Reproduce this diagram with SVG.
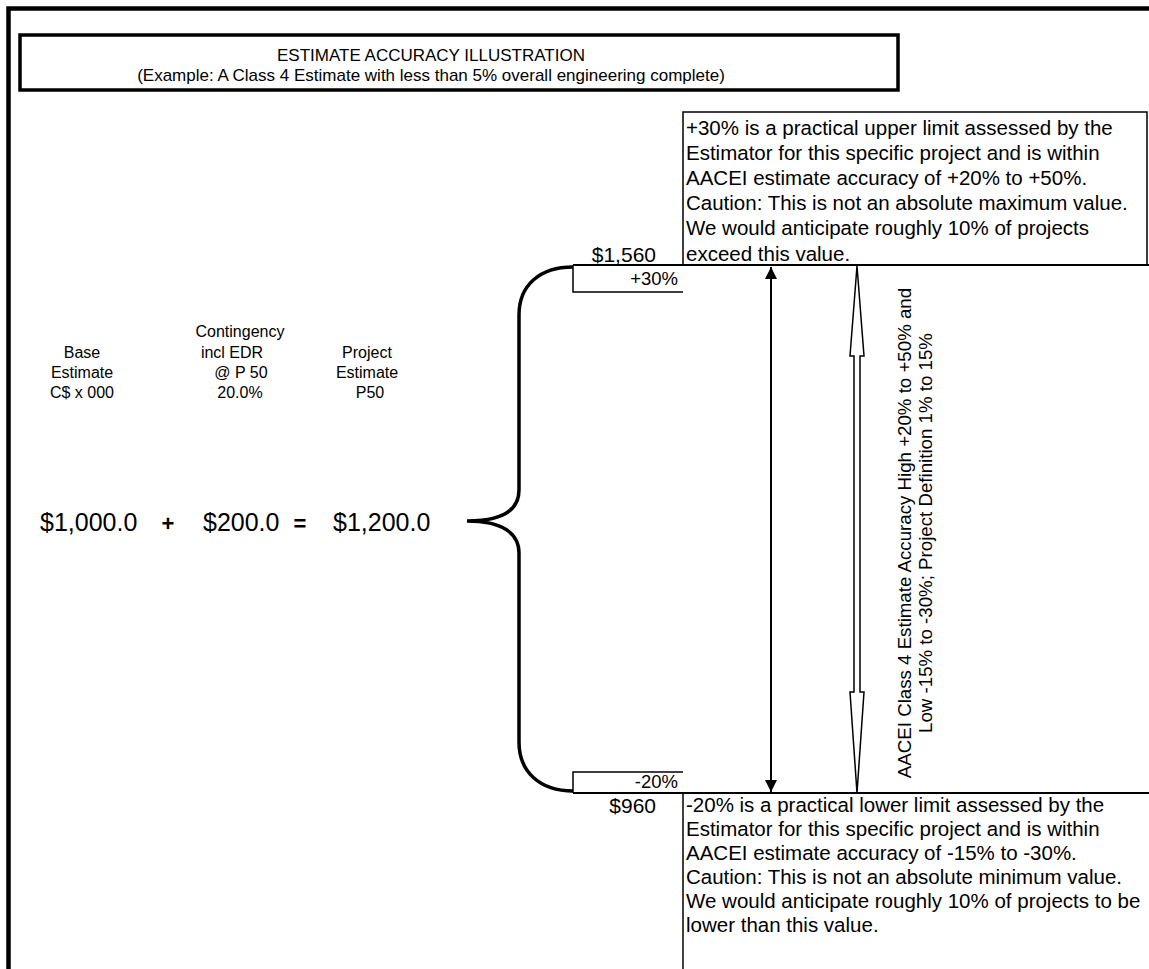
<svg xmlns="http://www.w3.org/2000/svg" width="1149" height="969" viewBox="0 0 1149 969">
<style>
text{font-family:"Liberation Sans",Arial,sans-serif;fill:#000}
.t{font-size:17px}
.b{font-size:20.5px}
.v{font-size:18.7px;text-anchor:middle}
.p{font-size:18.5px;text-anchor:end}
.d{font-size:21px;text-anchor:end}
.lbl{font-size:16px;text-anchor:middle}
.eq{font-size:25px}
.op{font-size:22px;font-weight:bold;text-anchor:middle}
.m{text-anchor:middle}
.thin{stroke:#000;stroke-width:1.5;fill:none}
.med{stroke:#000;stroke-width:2;fill:none}
</style>
<defs>
<marker id="ah" viewBox="0 0 10 10" refX="10" refY="5" markerWidth="12" markerHeight="12" markerUnits="userSpaceOnUse" orient="auto-start-reverse"><path d="M0,0 L10,5 L0,10 Z" fill="#000"/></marker>
</defs>
<rect width="1149" height="969" fill="#fff"/>
<g id="frame"><path d="M8.5,969 V8.5 H1149" stroke="#000" stroke-width="4.5" fill="none"/></g>
<g id="title">
<rect x="20" y="35" width="878" height="55" fill="none" stroke="#000" stroke-width="3.5"/>
<text class="t m" x="431" y="61">ESTIMATE ACCURACY ILLUSTRATION</text>
<text class="t m" x="431" y="81">(Example: A Class 4 Estimate with less than 5% overall engineering complete)</text>
</g>
<g id="upper-note">
<path class="thin" d="M683,265 V112 H1147 V265"/>
<text class="b">
<tspan x="686" y="135">+30% is a practical upper limit assessed by the</tspan>
<tspan x="686" y="160">Estimator for this specific project and is within</tspan>
<tspan x="686" y="185">AACEI estimate accuracy of +20% to +50%.</tspan>
<tspan x="686" y="210">Caution: This is not an absolute maximum value.</tspan>
<tspan x="686" y="235">We would anticipate roughly 10% of projects</tspan>
<tspan x="686" y="261">exceed this value.</tspan>
</text>
<text class="d" x="656" y="262">$1,560</text>
</g>
<g id="upper-box">
<path class="thin" d="M573,265 V292 H683"/>
<text class="p" x="678" y="285">+30%</text>
</g>
<g id="lower-box">
<path class="thin" d="M683,772 H573 V793"/>
<text class="p" x="678" y="788">-20%</text>
</g>
<g id="lower-note">
<path class="thin" d="M683,793 V969"/>
<text class="d" x="656" y="813">$960</text>
<text class="b">
<tspan x="686" y="812">-20% is a practical lower limit assessed by the</tspan>
<tspan x="686" y="836">Estimator for this specific project and is within</tspan>
<tspan x="686" y="860">AACEI estimate accuracy of -15% to -30%.</tspan>
<tspan x="686" y="884">Caution: This is not an absolute minimum value.</tspan>
<tspan x="686" y="908">We would anticipate roughly 10% of projects to be</tspan>
<tspan x="686" y="932">lower than this value.</tspan>
</text>
</g>
<g id="labels">
<text class="lbl" x="82" y="358">Base</text>
<text class="lbl" x="82" y="378">Estimate</text>
<text class="lbl" x="82" y="398">C$ x 000</text>
<text class="lbl" x="240" y="337">Contingency</text>
<text class="lbl" x="232" y="358">incl EDR</text>
<text class="lbl" x="241" y="378">@ P 50</text>
<text class="lbl" x="240" y="398">20.0%</text>
<text class="lbl" x="367" y="358">Project</text>
<text class="lbl" x="367" y="378">Estimate</text>
<text class="lbl" x="370" y="398">P50</text>
</g>
<g id="equation">
<text class="eq" x="40" y="531">$1,000.0</text>
<text class="op" x="168" y="531">+</text>
<text class="eq" x="203" y="531">$200.0</text>
<text class="op" x="300" y="531">=</text>
<text class="eq" x="333" y="531">$1,200.0</text>
</g>
<g id="range-note">
<text class="v" transform="translate(911,533) rotate(-90)">AACEI Class 4 Estimate Accuracy High +20% to +50% and</text>
<text class="v" transform="translate(932,533) rotate(-90)">Low -15% to -30%; Project Definition 1% to 15%</text>
</g>
<g id="connectors">
<path class="med" d="M573,265 H1149"/>
<path class="med" d="M573,793 H1149"/>
<path d="M573,267 C540,267 519,285 519,315 L519,490 C519,510 502,521 467,521 C502,521 519,533 519,553 L519,742 C519,772 540,791 573,791" stroke="#000" stroke-width="3.5" fill="none"/>
<path d="M771,267 V792" stroke="#000" stroke-width="2" fill="none" marker-start="url(#ah)" marker-end="url(#ah)"/>
<path class="thin" d="M857,266 L864,356 L860,356 L860,692 L864,692 L857,793 L850,692 L854,692 L854,356 L850,356 Z" fill="#fff"/>
</g>
</svg>
